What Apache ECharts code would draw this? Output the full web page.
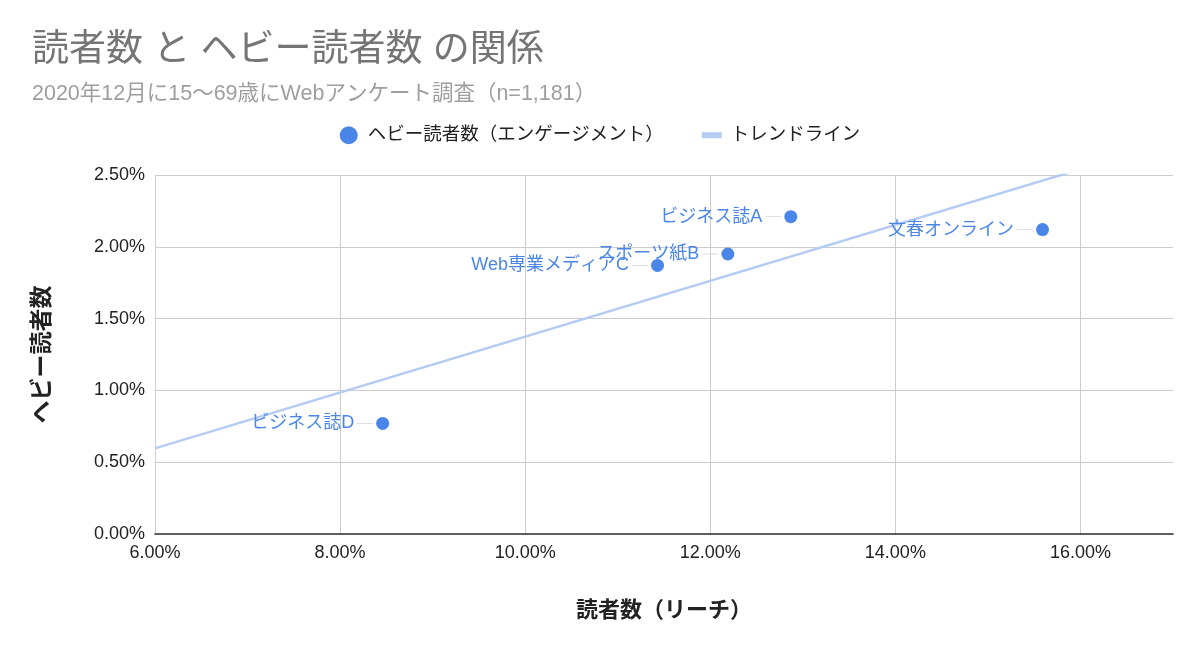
<!DOCTYPE html>
<html>
<head>
<meta charset="utf-8">
<script src="https://cdn.jsdelivr.net/npm/echarts@6/dist/echarts.min.js"></script>
<style>
  html,body{margin:0;padding:0;background:#fff;}
  #chart{width:1200px;height:653px;}
</style>
</head>
<body>
<div id="chart"></div>
<script>
// 媒体名
var names = ['ビジネス誌D', 'Web専業メディアC', 'スポーツ紙B', 'ビジネス誌A', '文春オンライン'];
// 読者数（リーチ） %
var reach = [8.46, 11.43, 12.19, 12.87, 15.59];
// ヘビー読者数 %
var heavy = [0.77, 1.87, 1.95, 2.21, 2.12];

var xTicks = { min: 6, max: 17, interval: 2 };
var yTicks = { min: 0, max: 2.5, interval: 0.5 };

// trendline (least squares from the points)
function trend(xs, ys) {
  var n = xs.length, mx = 0, my = 0;
  for (var i = 0; i < n; i++) { mx += xs[i]; my += ys[i]; }
  mx /= n; my /= n;
  var sxy = 0, sxx = 0;
  for (var i = 0; i < n; i++) {
    sxy += (xs[i] - mx) * (ys[i] - my);
    sxx += (xs[i] - mx) * (xs[i] - mx);
  }
  var b = sxy / sxx, a = my - b * mx;
  return [[xTicks.min, a + b * xTicks.min], [xTicks.max, a + b * xTicks.max]];
}

var points = [];
for (var i = 0; i < names.length; i++) {
  points.push({ name: names[i], value: [reach[i], heavy[i]] });
}

var font = '"Liberation Sans", "Noto Sans CJK JP", sans-serif';
var myChart = echarts.init(document.getElementById('chart'));

var option = {
  textStyle: { fontFamily: font },
  title: {
    text: '読者数 と ヘビー読者数 の関係',
    subtext: '2020年12月に15〜69歳にWebアンケート調査（n=1,181）',
    left: 27,
    top: 27,
    itemGap: 14,
    textStyle: { fontSize: 37, fontWeight: 'normal', color: '#757575', fontFamily: font },
    subtextStyle: { fontSize: 21.5, color: '#9e9e9e', fontFamily: font }
  },
  legend: {
    top: 121,
    left: 'center',
    itemGap: 38,
    itemWidth: 20,
    itemHeight: 18,
    textStyle: { fontSize: 18.5, color: '#222', fontFamily: font, padding: [0, 0, 0, 4] },
    data: [
      { name: 'ヘビー読者数（エンゲージメント）', icon: 'circle' },
      { name: 'トレンドライン', icon: 'path://M0,0 L20,0 L20,6 L0,6 Z' }
    ]
  },
  grid: { left: 155, right: 27, top: 175, bottom: 119 },
  xAxis: {
    type: 'value',
    min: xTicks.min, max: xTicks.max, interval: xTicks.interval,
    name: '読者数（リーチ）',
    nameLocation: 'middle',
    nameGap: 66,
    nameTextStyle: { fontSize: 22, fontWeight: 'bold', color: '#222' },
    axisLine: { show: true, lineStyle: { color: '#333', width: 1.5 } },
    axisTick: { show: false },
    splitLine: { show: true, showMaxLine: false, lineStyle: { color: '#ccc' } },
    axisLabel: {
      fontSize: 18, color: '#222', margin: 10, showMaxLabel: false,
      formatter: function (v) { return v.toFixed(2) + '%'; }
    }
  },
  yAxis: {
    type: 'value',
    min: yTicks.min, max: yTicks.max, interval: yTicks.interval,
    name: 'ヘビー読者数',
    nameLocation: 'middle',
    nameRotate: 90,
    nameGap: 101,
    nameTextStyle: { fontSize: 23, fontWeight: 'bold', color: '#222' },
    axisLine: { show: false },
    axisTick: { show: false },
    splitLine: { show: true, lineStyle: { color: '#ccc' } },
    axisLabel: {
      fontSize: 18, color: '#222', margin: 10,
      formatter: function (v) { return v.toFixed(2) + '%'; }
    }
  },
  series: [
    {
      name: 'トレンドライン',
      type: 'line',
      data: trend(reach, heavy),
      symbol: 'none',
      clip: true,
      color: '#b4cbf3',
      lineStyle: { width: 2.5, color: '#b4cbf3' },
      z: 1,
      silent: true
    },
    {
      name: 'ヘビー読者数（エンゲージメント）',
      type: 'scatter',
      data: points,
      symbolSize: 13,
      color: '#4a86e8',
      itemStyle: { color: '#4a86e8', opacity: 1 },
      z: 3,
      label: {
        show: true,
        position: 'left',
        distance: 3,
        formatter: '{t|{b}}{l|}',
        rich: {
          t: { fontSize: 18, color: '#4a86e8', fontFamily: font, padding: [0, 3, 0, 0] },
          l: { width: 16, height: 1, backgroundColor: '#dddddd', verticalAlign: 'middle' }
        }
      }
    }
  ]
};

myChart.setOption(option);
</script>
</body>
</html>
